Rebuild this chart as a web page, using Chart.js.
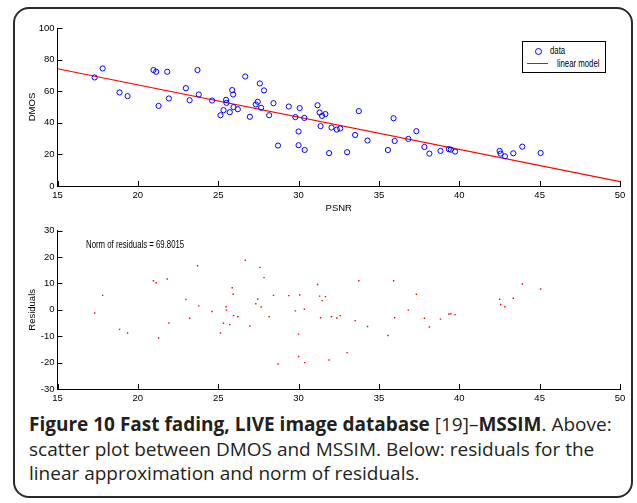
<!DOCTYPE html>
<html>
<head>
<meta charset="utf-8">
<script src="https://cdn.jsdelivr.net/npm/chart.js@4"></script>
<style>
  body{margin:0;background:#fff;width:637px;height:503px;position:relative;overflow:hidden;}
  .frame{position:absolute;left:13px;top:7px;width:620px;height:491px;border:2px solid #2a2a2a;border-radius:16px;box-sizing:border-box;}
  canvas{position:absolute;left:0;}
  #top{top:0;}
  #bot{top:220px;}
  .narrow{font-family:'Liberation Sans',Arial,sans-serif;font-size:10px;color:#000;white-space:nowrap;transform:scaleX(0.78);transform-origin:0 0;}
  .legend{position:absolute;left:522px;top:41px;width:84px;height:32px;border:1.5px solid #000;background:#fff;box-sizing:border-box;}
  .legend .mk{position:absolute;left:12px;top:6px;width:5px;height:5px;border:1px solid #00f;border-radius:50%;}
  .legend .ln{position:absolute;left:4px;top:21px;width:21px;height:1px;background:#f00;}
  .legend .t1{position:absolute;left:27px;top:3px;}
  .legend .t2{position:absolute;left:34px;top:16px;}
  .norm{position:absolute;left:86px;top:239px;}
  .caption{position:absolute;left:29px;top:412px;width:598px;font-family:'Open Sans',sans-serif;font-size:19px;line-height:24.5px;color:#231f20;}
  .caption b{font-weight:700;}
</style>
</head>
<body>
<div class="frame"></div>
<canvas id="top" width="637" height="220"></canvas>
<canvas id="bot" width="637" height="190"></canvas>
<div class="legend"><div class="mk"></div><span class="t1 narrow">data</span><div class="ln"></div><span class="t2 narrow">linear model</span></div>
<div class="norm narrow">Norm of residuals = 69.8015</div>
<div class="caption"><b>Figure 10 Fast fading, LIVE image database</b> [19]–<b>MSSIM</b>. Above: scatter plot between DMOS and MSSIM. Below: residuals for the linear approximation and norm of residuals.</div>
<script>
// values
const psnr = [17.31,17.81,18.86,19.36,20.97,21.14,21.29,21.83,21.93,22.99,23.22,23.71,23.79,24.62,25.14,25.33,25.49,25.51,25.72,25.87,
  25.93,25.95,26.22,26.68,26.97,27.34,27.46,27.59,27.67,27.85,28.17,28.44,28.72,29.39,29.80,30.00,30.00,30.07,30.36,30.38,
  31.18,31.31,31.37,31.46,31.67,31.90,32.05,32.38,32.59,33.02,33.52,33.75,34.29,35.56,35.91,35.98,36.83,37.33,37.83,38.14,
  38.83,39.35,39.47,39.74,42.51,42.57,42.84,43.36,43.92,45.06];
const dmos = [68.7,74.4,59.2,56.9,73.4,72.3,50.7,72.3,55.4,61.9,54.3,73.4,57.9,54.1,44.8,48.0,54.5,52.6,46.7,60.7,
  57.9,49.9,48.6,69.3,43.8,51.6,53.3,64.9,49.5,60.5,44.8,52.4,25.6,50.3,43.6,25.8,34.5,49.3,43.1,22.8,
  51.1,46.5,37.9,44.4,45.5,20.8,37.0,35.7,36.4,21.4,32.3,47.4,28.8,22.8,42.9,28.5,29.8,34.7,24.7,20.5,
  22.2,23.3,23.0,21.8,22.2,20.5,18.8,20.7,24.9,20.9];
const residuals = [-1.2,5.5,-7.4,-8.8,11.0,10.3,-10.7,11.7,-5.0,3.9,-3.2,16.7,1.5,-0.6,-8.8,-5.1,1.2,-0.1,-5.6,8.4,
  5.9,-2.2,-2.6,18.8,-6.1,2.3,4.1,16.1,1.1,12.2,-2.6,5.5,-20.5,5.4,-0.4,-17.7,-9.2,5.6,0.2,-20.0,
  9.6,5.2,-3.0,3.5,5.0,-19.0,-2.6,-3.1,-2.2,-16.2,-4.1,11.0,-6.3,-9.7,11.0,-3.0,-0.1,5.9,-3.2,-6.5,
  -3.5,-1.6,-1.5,-1.8,4.0,2.0,1.2,4.4,9.8,7.9];
const fitX = [15, 50];
const fitY = [74.2, 2.7];
const xTicks = [15,20,25,30,35,40,45,50];

const FONT = {family:"'Liberation Sans',Arial,sans-serif", size:9.5};

const inwardTicks = {
  id:'inwardTicks',
  afterDraw(chart){
    const {ctx, chartArea:a, scales:{x,y}} = chart;
    ctx.save(); ctx.strokeStyle='#000'; ctx.lineWidth=1;
    x.ticks.forEach(t=>{ const p=Math.round(x.getPixelForValue(t.value))+0.5; ctx.beginPath(); ctx.moveTo(p,a.bottom); ctx.lineTo(p,a.bottom-5); ctx.stroke(); });
    y.ticks.forEach(t=>{ const p=Math.round(y.getPixelForValue(t.value))+0.5; ctx.beginPath(); ctx.moveTo(a.left,p); ctx.lineTo(a.left+5,p); ctx.stroke(); });
    ctx.restore();
  }
};

function axes(ymin, ymax, ystep, ytitle, xtitle, xh){
  return {
    x:{type:'linear', min:15, max:50, afterFit:s=>{s.height=xh;},
      afterBuildTicks:s=>{s.ticks=xTicks.map(v=>({value:v}));},
      grid:{display:false, drawTicks:false}, border:{color:'#000', width:1},
      ticks:{color:'#000', font:FONT, padding:4, maxRotation:0},
      title:{display:!!xtitle, text:xtitle, color:'#000', font:FONT, padding:0}},
    y:{type:'linear', min:ymin, max:ymax, afterFit:s=>{s.width=30.5;},
      grid:{display:false, drawTicks:false}, border:{color:'#000', width:1},
      ticks:{color:'#000', font:FONT, padding:3, stepSize:ystep},
      title:{display:true, text:ytitle, color:'#000', font:FONT, padding:0}}
  };
}

new Chart(document.getElementById('top'), {
  type:'scatter',
  data:{datasets:[
    {label:'data', data:psnr.map((v,i)=>({x:v,y:dmos[i]})), pointRadius:2.6, pointBorderWidth:1, borderColor:'#0000ff', backgroundColor:'rgba(0,0,0,0)'},
    {label:'linear model', type:'line', data:fitX.map((v,i)=>({x:v,y:fitY[i]})), borderColor:'#ff0000', borderWidth:1.2, pointRadius:0, fill:false}
  ]},
  options:{responsive:false, animation:false, events:[],
    layout:{padding:{left:27, right:17, top:28, bottom:6}},
    plugins:{legend:{display:false}, tooltip:{enabled:false}},
    scales:axes(0,100,20,'DMOS','PSNR',28)},
  plugins:[inwardTicks]
});

new Chart(document.getElementById('bot'), {
  type:'scatter',
  data:{datasets:[
    {label:'residuals', data:psnr.map((v,i)=>({x:v,y:residuals[i]})), pointStyle:'rect', pointRadius:1, pointBorderWidth:0, backgroundColor:'#ff0000', borderColor:'#ff0000'}
  ]},
  options:{responsive:false, animation:false, events:[],
    layout:{padding:{left:27, right:17, top:10.7, bottom:0}},
    plugins:{legend:{display:false}, tooltip:{enabled:false}},
    scales:axes(-30,30,10,'Residuals','',21)},
  plugins:[inwardTicks]
});
</script>
</body>
</html>
